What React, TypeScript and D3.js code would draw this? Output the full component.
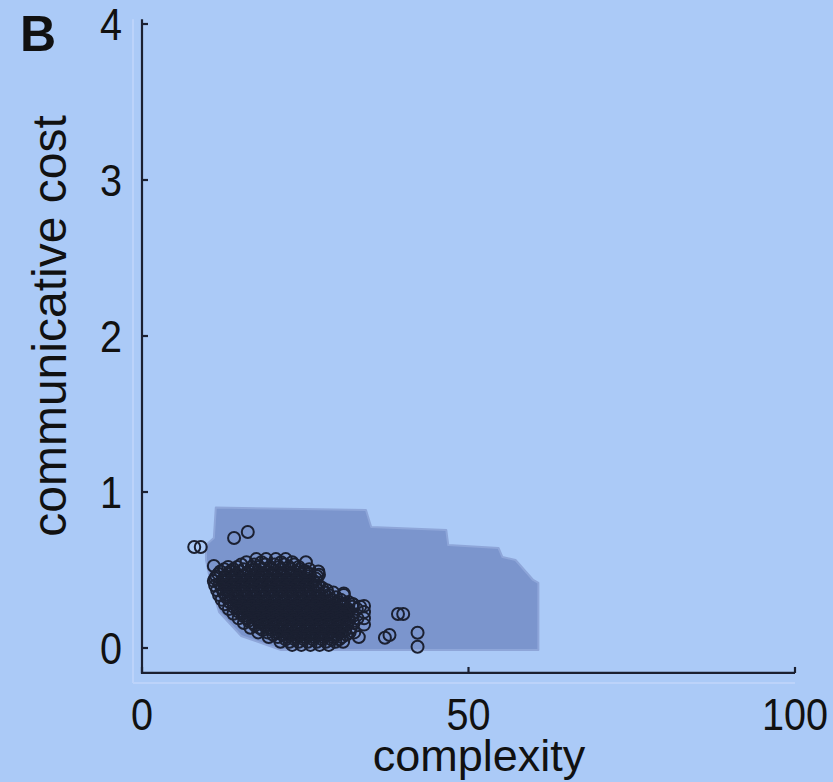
import React from "react";
import * as d3 from "d3";

// Shaded region (complexity, cost) – outline of the simulated-language area
const regionComplexity = [11.3, 34.3, 35.1, 46.6, 46.9, 54.6, 55.2, 57.2, 59.9, 60.7, 60.7, 21.3, 15.2, 11.8, 10.6, 9.8, 9.8, 11.0];
const regionCost = [0.9, 0.885, 0.776, 0.756, 0.66, 0.641, 0.583, 0.564, 0.436, 0.417, -0.013, -0.013, 0.077, 0.231, 0.404, 0.564, 0.66, 0.705];

// Circles: rows of (cost, complexities)
const clusterRows: [number, number[]][] = [
  [0.57, [17.5, 19.0, 20.5, 22.0]],
  [0.55, [16.0, 18.3, 21.3, 23.0, 25.1]],
  [0.535, [15.2, 17.2, 18.9, 20.3, 21.8, 23.3]],
  [0.52, [13.2, 14.6, 16.8, 18.0, 19.6, 21.0, 22.5, 24.0]],
  [0.505, [12.6, 14.0, 15.6, 17.1, 18.5, 19.9, 21.3, 22.7, 24.1, 25.6]],
  [0.49, [12.0, 13.5, 15.0, 16.4, 17.8, 19.2, 20.6, 22.0, 23.4, 24.8, 27.0]],
  [0.475, [11.7, 13.1, 14.5, 15.9, 17.3, 18.7, 20.1, 21.5, 22.9, 24.3, 25.7]],
  [0.46, [11.4, 12.8, 14.2, 15.6, 17.0, 18.4, 19.8, 21.2, 22.6, 24.0, 25.4, 26.8]],
  [0.445, [11.2, 12.6, 14.0, 15.4, 16.8, 18.2, 19.6, 21.0, 22.4, 23.8, 25.2, 26.6]],
  [0.43, [11.0, 12.3, 13.7, 15.1, 16.5, 17.9, 19.3, 20.7, 22.1, 23.5, 24.9, 26.3]],
  [0.415, [11.9, 13.3, 14.7, 16.1, 17.5, 18.9, 20.3, 21.7, 23.1, 24.5, 25.9]],
  [0.4, [11.2, 12.6, 14.0, 15.4, 16.8, 18.2, 19.6, 21.0, 22.4, 23.8, 25.2, 26.6, 27.1]],
  [0.385, [12.2, 13.6, 15.0, 16.4, 17.8, 19.2, 20.6, 22.0, 23.4, 24.8, 26.2, 27.6]],
  [0.37, [11.5, 12.9, 14.3, 15.7, 17.1, 18.5, 19.9, 21.3, 22.7, 24.1, 25.5, 26.9, 28.3]],
  [0.355, [12.5, 13.9, 15.3, 16.7, 18.1, 19.5, 20.9, 22.3, 23.7, 25.1, 26.5, 27.9, 29.3]],
  [0.34, [11.8, 13.2, 14.6, 16.0, 17.4, 18.8, 20.2, 21.6, 23.0, 24.4, 25.8, 27.2, 28.6, 30.9]],
  [0.325, [12.9, 14.3, 15.7, 17.1, 18.5, 19.9, 21.3, 22.7, 24.1, 25.5, 26.9, 28.3, 29.7]],
  [0.31, [12.2, 13.6, 15.0, 16.4, 17.8, 19.2, 20.6, 22.0, 23.4, 24.8, 26.2, 27.6, 29.0, 30.4]],
  [0.295, [13.4, 14.8, 16.2, 17.6, 19.0, 20.4, 21.8, 23.2, 24.6, 26.0, 27.4, 28.8, 30.2, 31.6]],
  [0.28, [12.7, 14.1, 15.5, 16.9, 18.3, 19.7, 21.1, 22.5, 23.9, 25.3, 26.7, 28.1, 29.5, 30.9, 32.3]],
  [0.265, [14.0, 15.4, 16.8, 18.2, 19.6, 21.0, 22.4, 23.8, 25.2, 26.6, 28.0, 29.4, 30.8, 32.2, 33.4]],
  [0.25, [13.3, 14.7, 16.1, 17.5, 18.9, 20.3, 21.7, 23.1, 24.5, 25.9, 27.3, 28.7, 30.1, 31.5, 32.9]],
  [0.235, [14.7, 16.1, 17.5, 18.9, 20.3, 21.7, 23.1, 24.5, 25.9, 27.3, 28.7, 30.1, 31.5]],
  [0.22, [14.0, 15.4, 16.8, 18.2, 19.6, 21.0, 22.4, 23.8, 25.2, 26.6, 28.0, 29.4, 30.8, 32.2]],
  [0.205, [15.5, 16.9, 18.3, 19.7, 21.1, 22.5, 23.9, 25.3, 26.7, 28.1, 29.5, 30.9, 32.3]],
  [0.19, [14.8, 16.2, 17.6, 19.0, 20.4, 21.8, 23.2, 24.6, 26.0, 27.4, 28.8, 30.2, 31.6, 33.0]],
  [0.175, [16.3, 17.7, 19.1, 20.5, 21.9, 23.3, 24.7, 26.1, 27.5, 28.9, 30.3, 31.7]],
  [0.16, [15.6, 17.0, 18.4, 19.8, 21.2, 22.6, 24.0, 25.4, 26.8, 28.2, 29.6, 31.0, 32.4]],
  [0.145, [17.3, 18.7, 20.1, 21.5, 22.9, 24.3, 25.7, 27.1, 28.5, 29.9, 31.3]],
  [0.13, [16.6, 18.0, 19.4, 20.8, 22.2, 23.6, 25.0, 26.4, 27.8, 29.2, 30.6, 32.0]],
  [0.115, [18.5, 19.9, 21.3, 22.7, 24.1, 25.5, 26.9, 28.3, 29.7, 31.1]],
  [0.1, [17.8, 19.2, 20.6, 22.0, 23.4, 24.8, 26.2, 27.6, 29.0, 30.4, 31.8, 32.5]],
  [0.085, [20.1, 21.5, 22.9, 24.3, 25.7, 27.1, 28.5, 29.9, 31.3]],
  [0.07, [19.4, 20.8, 22.2, 23.6, 25.0, 26.4, 27.8, 29.2, 30.6, 33.2]],
  [0.055, [22.0, 23.4, 24.8, 26.2, 27.6, 29.0, 30.2]],
  [0.04, [21.2, 22.6, 24.0, 25.4, 26.8, 28.2, 29.6, 30.8]],
  [0.02, [23.0, 24.4, 25.8, 27.2, 28.6]],
];

// Individual circles outside the dense cluster: [complexity, cost]
const outliers: [number, number][] = [
  [8.0, 0.647], [9.0, 0.647], [14.1, 0.705], [16.2, 0.744], [11.0, 0.526],
  [25.1, 0.49], [27.1, 0.47], [27.0, 0.4], [30.9, 0.35], [32.3, 0.28],
  [34.0, 0.27], [34.0, 0.23], [34.0, 0.19], [34.0, 0.15],
  [39.2, 0.218], [40.0, 0.218], [37.2, 0.066], [37.9, 0.083],
  [42.2, 0.098], [42.2, 0.008],
];

const xTicks = [0, 50, 100];
const yTicks = [0, 1, 2, 3, 4];

const W = 833;
const H = 782;
const BG = "#abcaf7";
const REGION = "#7b95cd";
const INK = "#1b2031";

export default function App() {
  const x = d3.scaleLinear().domain([0, 100]).range([142, 795]);
  const y = d3.scaleLinear().domain([0, 4]).range([648, 24]);
  const axisY = y(-0.16);
  const axisTop = y(4.03);

  const regionPts: [number, number][] = regionComplexity.map((c, i) => [c, regionCost[i]]);
  const regionPath = d3
    .line<[number, number]>()
    .x((d) => x(d[0]))
    .y((d) => y(d[1]))
    .curve(d3.curveLinearClosed)(regionPts) as string;

  const points: [number, number][] = [];
  clusterRows.forEach(([cost, xs]) => xs.forEach((c) => points.push([c, cost])));
  outliers.forEach((p) => points.push(p));

  const font = "'Liberation Sans', Arial, Helvetica, sans-serif";

  return (
    <svg
      width={W}
      height={H}
      style={{ position: "absolute", left: 0, top: 0, display: "block" }}
      fontFamily={font}
    >
      <rect width={W} height={H} fill={BG} />
      {/* faint ghost axis lines */}
      <line x1={133} x2={133} y1={axisTop} y2={axisY + 10} stroke="#bcd3fa" strokeWidth={2} />
      <line x1={133} x2={x(100)} y1={axisY + 10} y2={axisY + 10} stroke="#bcd3fa" strokeWidth={2} />

      <path d={regionPath} fill={REGION} stroke="#8ea6d9" strokeWidth={2} strokeLinejoin="round" />

      <g fill="none" stroke={INK} strokeWidth={2}>
        {points.map((p, i) => (
          <circle key={i} cx={x(p[0])} cy={y(p[1])} r={6} />
        ))}
      </g>

      {/* axes */}
      <g stroke={INK} strokeWidth={2.2} fill="none">
        <path d={`M${x(0)},${axisTop}V${axisY}H${x(100)}`} />
        {yTicks.map((t) => (
          <line key={t} x1={x(0)} x2={x(0) + 6} y1={y(t)} y2={y(t)} />
        ))}
        {xTicks.map((t) => (
          <line key={t} x1={x(t)} x2={x(t)} y1={axisY} y2={axisY - 6} />
        ))}
      </g>

      <g fill="#111" fontSize={45}>
        {yTicks.map((t) => (
          <text key={t} transform={`translate(122,${y(t)}) scale(0.88,1)`} dy="0.36em" textAnchor="end">
            {t}
          </text>
        ))}
        {xTicks.map((t) => (
          <text key={t} transform={`translate(${x(t)},730) scale(0.88,1)`} textAnchor="middle">
            {t}
          </text>
        ))}
      </g>

      <text x={479} y={771} textAnchor="middle" fontSize={45} fill="#111">
        complexity
      </text>
      <text
        transform={`translate(66,326) rotate(-90)`}
        textAnchor="middle"
        fontSize={48}
        fill="#111"
      >
        communicative cost
      </text>
      <text x={20} y={51} fontSize={50} fontWeight="bold" fill="#111">
        B
      </text>
    </svg>
  );
}
